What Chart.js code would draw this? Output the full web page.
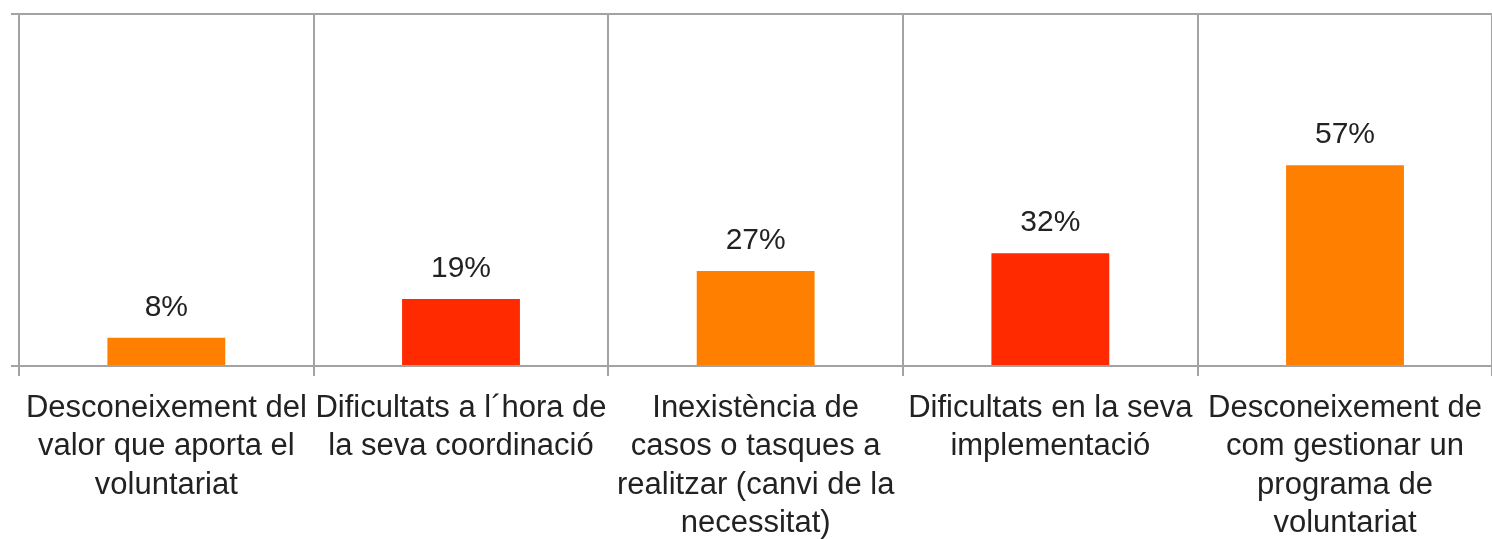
<!DOCTYPE html>
<html>
<head>
<meta charset="utf-8">
<script src="https://cdn.jsdelivr.net/npm/chart.js@4/dist/chart.umd.min.js"></script>
<style>
  html, body { margin: 0; padding: 0; background: #fff; overflow: hidden; }
  #chart { display: block; }
</style>
</head>
<body>
<canvas id="chart" width="1495" height="539"></canvas>
<script>
const categories = [
  ["Desconeixement del", "valor que aporta el", "voluntariat"],
  ["Dificultats a l´hora de", "la seva coordinació"],
  ["Inexistència de", "casos o tasques a", "realitzar (canvi de la", "necessitat)"],
  ["Dificultats en la seva", "implementació"],
  ["Desconeixement de", "com gestionar un", "programa de", "voluntariat"],
];
const values = [8, 19, 27, 32, 57];
const barColors = ["#ff7f00", "#ff2a00", "#ff7f00", "#ff2a00", "#ff7f00"];

const gridColor = "#a3a3a3";
const fontFamily = "'Liberation Sans', Arial, Helvetica, sans-serif";

// draws the "57%" style value labels above each bar
const valueLabels = {
  id: "valueLabels",
  afterDatasetsDraw(chart) {
    const ctx = chart.ctx;
    const meta = chart.getDatasetMeta(0);
    ctx.save();
    ctx.font = "30px " + fontFamily;
    ctx.fillStyle = "#222";
    ctx.textAlign = "center";
    ctx.textBaseline = "alphabetic";
    meta.data.forEach((bar, i) => {
      ctx.fillText(values[i] + "%", bar.x, bar.y - 22);
    });
    ctx.restore();
  },
};

new Chart(document.getElementById("chart").getContext("2d"), {
  type: "bar",
  data: {
    labels: categories,
    datasets: [{
      data: values,
      backgroundColor: barColors,
      borderWidth: 0,
      barPercentage: 0.4,
      categoryPercentage: 1,
    }],
  },
  options: {
    responsive: false,
    animation: false,
    devicePixelRatio: 1,
    layout: { padding: { top: 14, left: 11, right: 0, bottom: 0 } },
    plugins: { legend: { display: false }, tooltip: { enabled: false } },
    scales: {
      x: {
        grid: { offset: true, color: gridColor, lineWidth: 2, tickLength: 10 },
        border: { color: gridColor, width: 2 },
        ticks: {
          color: "#222",
          padding: 13,
          maxRotation: 0,
          autoSkip: false,
          font: { family: fontFamily, size: 31, lineHeight: 1.242 },
        },
        afterFit(scale) { scale.height = 173; },
      },
      y: {
        min: 0,
        max: 100,
        ticks: { stepSize: 100, display: false },
        grid: { color: gridColor, lineWidth: 2, tickLength: 8 },
        border: { color: gridColor, width: 2 },
      },
    },
  },
  plugins: [valueLabels],
});
</script>
</body>
</html>
